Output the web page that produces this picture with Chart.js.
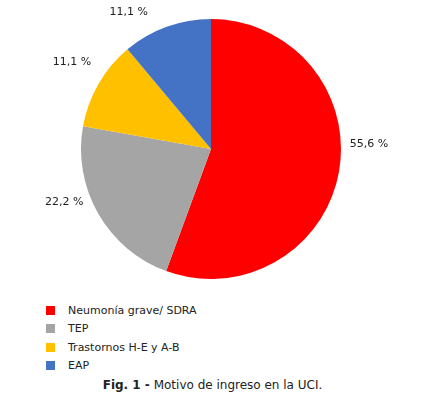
<!DOCTYPE html>
<html>
<head>
<meta charset="utf-8">
<script src="https://cdn.jsdelivr.net/npm/chart.js@4"></script>
<style>
  body { margin: 0; background: #fff; font-family: "DejaVu Sans", Verdana, sans-serif; color: #222; }
  #wrap { position: relative; width: 425px; height: 393px; }
  #legend { position: absolute; left: 46px; top: 301px; list-style: none; margin: 0; padding: 0; font-size: 11px; }
  #legend li { height: 18.5px; display: flex; align-items: center; }
  #legend .box { width: 9px; height: 9px; margin-right: 13px; display: inline-block; }
  #caption { position: absolute; left: 0; top: 378px; width: 425px; text-align: center; font-size: 12px; }
</style>
</head>
<body>
<div id="wrap">
  <canvas id="pieChart" width="425" height="300"></canvas>
  <ul id="legend"></ul>
  <div id="caption"><b>Fig. 1 -</b> Motivo de ingreso en la UCI.</div>
</div>
<script>
// Motivo de ingreso en la UCI (%)
const categories = ["Neumonía grave/ SDRA", "TEP", "Trastornos H-E y A-B", "EAP"];
const percentages = [55.6, 22.2, 11.1, 11.1];
const sliceColors = ["#FF0000", "#A5A5A5", "#FFC000", "#4472C4"];

const fmt = v => v.toFixed(1).replace(".", ",") + " %";

// draws the "xx,x %" labels just outside each slice
const pctLabels = {
  id: "pctLabels",
  afterDatasetsDraw(chart, args, opts) {
    const ctx = chart.ctx;
    const meta = chart.getDatasetMeta(0);
    ctx.save();
    ctx.font = '11px "DejaVu Sans"';
    ctx.fillStyle = "#222";
    ctx.textAlign = "center";
    ctx.textBaseline = "middle";
    meta.data.forEach((arc, i) => {
      const p = arc.getProps(["x", "y", "startAngle", "endAngle", "outerRadius"], true);
      const mid = (p.startAngle + p.endAngle) / 2 + opts.nudge[i] * Math.PI / 180;
      const r = p.outerRadius + opts.offset[i];
      ctx.fillText(fmt(percentages[i]), p.x + Math.cos(mid) * r, p.y + Math.sin(mid) * r);
    });
    ctx.restore();
  }
};

new Chart("pieChart", {
  type: "pie",
  data: {
    labels: categories,
    datasets: [{
      data: percentages,
      backgroundColor: sliceColors,
      borderWidth: 0
    }]
  },
  options: {
    responsive: false,
    animation: false,
    layout: { padding: { left: 81, right: 84, top: 19, bottom: 21 } },
    plugins: {
      legend: { display: false },
      tooltip: { enabled: false },
      pctLabels: { nudge: [-12, 10, 2, -11], offset: [28, 26, 34, 30] }
    }
  },
  plugins: [pctLabels]
});

// legend list under the pie
const legendEl = document.getElementById("legend");
categories.forEach((c, i) => {
  const li = document.createElement("li");
  li.innerHTML = '<span class="box" style="background:' + sliceColors[i] + '"></span>' + c;
  legendEl.appendChild(li);
});
</script>
</body>
</html>
